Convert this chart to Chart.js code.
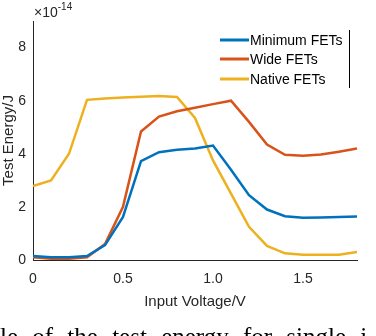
<!DOCTYPE html>
<html lang="en">
<head>
    <meta charset="UTF-8">
    <title>Test energy vs input voltage</title>
    <script src="https://cdn.jsdelivr.net/npm/chart.js"></script>
    <style>
        body {
            margin: 0;
            background: #fff;
        }
        #wrap {
            position: relative;
            width: 376px;
            height: 336px;
            overflow: hidden;
        }
        #caption {
            position: absolute;
            left: 0;
            top: 323px;
            white-space: nowrap;
            font-family: "Liberation Serif", "DejaVu Serif", serif;
            font-size: 25px;
            word-spacing: 8px;
            color: #000;
        }
    </style>
</head>
<body>
    <div id="wrap">
        <canvas id="energyChart" width="376" height="336"></canvas>
        <div id="caption">le of the test energy for single i</div>
    </div>

    <script>
        // input voltage (V)
        const voltages = [0, 0.1, 0.2, 0.3, 0.4, 0.5, 0.6, 0.7, 0.8, 0.9, 1.0, 1.1, 1.2, 1.3, 1.4, 1.5, 1.6, 1.7, 1.8];
        // test energy, units of 1e-14 J
        const minimumFets = [0.15, 0.1, 0.1, 0.15, 0.56, 1.62, 3.72, 4.06, 4.15, 4.2, 4.31, 3.4, 2.44, 1.9, 1.65, 1.59, 1.6, 1.62, 1.64];
        const wideFets = [0.1, 0.05, 0.05, 0.1, 0.6, 2.0, 4.84, 5.4, 5.6, 5.73, 5.87, 6.0, 5.2, 4.35, 3.96, 3.93, 3.97, 4.08, 4.2];
        const nativeFets = [2.78, 3.0, 4.0, 6.03, 6.08, 6.12, 6.15, 6.18, 6.14, 5.35, 3.75, 2.5, 1.25, 0.53, 0.25, 0.2, 0.2, 0.2, 0.3];
        const seriesNames = ['Minimum FETs', 'Wide FETs', 'Native FETs'];
        const seriesColors = ['#0072BD', '#D95319', '#EDB120'];

        const axisColor = '#262626';
        const fontFamily = '"Liberation Sans", Arial, sans-serif';

        const toPoints = (ys) => voltages.map((v, i) => ({x: v, y: ys[i]}));

        // legend box and the x10^-14 multiplier, drawn like the MATLAB figure
        const figureExtras = {
            id: 'figureExtras',
            afterDraw(chart) {
                const ctx = chart.ctx;
                const area = chart.chartArea;
                ctx.save();

                // exponent label
                ctx.fillStyle = axisColor;
                ctx.textBaseline = 'alphabetic';
                ctx.textAlign = 'left';
                ctx.font = '14px ' + fontFamily;
                ctx.fillText('\u00d710', area.left + 1, 17);
                const w = ctx.measureText('\u00d710').width;
                ctx.font = '10px ' + fontFamily;
                ctx.fillText('-14', area.left + 1 + w, 10);

                // legend
                const lx = 220, rows = [40, 59, 79];
                ctx.font = '14px ' + fontFamily;
                ctx.textBaseline = 'middle';
                chart.data.datasets.forEach((ds, i) => {
                    ctx.strokeStyle = ds.borderColor;
                    ctx.lineWidth = 3;
                    ctx.beginPath();
                    ctx.moveTo(lx, rows[i]);
                    ctx.lineTo(lx + 29, rows[i]);
                    ctx.stroke();
                    ctx.fillStyle = '#000';
                    ctx.fillText(ds.label, lx + 30, rows[i] + 1);
                });
                ctx.strokeStyle = '#000';
                ctx.lineWidth = 1;
                ctx.beginPath();
                ctx.moveTo(349.5, 30);
                ctx.lineTo(349.5, 88);
                ctx.stroke();

                ctx.restore();
            }
        };

        new Chart(document.getElementById('energyChart'), {
            type: 'line',
            data: {
                datasets: [minimumFets, wideFets, nativeFets].map((ys, i) => ({
                    label: seriesNames[i],
                    data: toPoints(ys),
                    borderColor: seriesColors[i],
                    backgroundColor: seriesColors[i],
                    borderWidth: 2.5,
                    pointRadius: 0,
                    tension: 0
                }))
            },
            options: {
                responsive: false,
                animation: false,
                layout: { padding: { top: 21, right: 19, left: 0, bottom: 0 } },
                plugins: {
                    legend: { display: false },
                    tooltip: { enabled: false }
                },
                scales: {
                    x: {
                        type: 'linear',
                        min: 0, max: 1.8,
                        grid: { display: false, drawTicks: false },
                        border: { display: true, color: axisColor, width: 1 },
                        ticks: {
                            stepSize: 0.5,
                            includeBounds: false,
                            padding: 11,
                            color: axisColor,
                            font: { family: fontFamily, size: 14 },
                            maxRotation: 0
                        },
                        title: {
                            display: true,
                            text: 'Input Voltage/V',
                            color: axisColor,
                            font: { family: fontFamily, size: 15 },
                            padding: { top: 4, bottom: 25 }
                        },
                        afterFit: (scale) => { scale.height = 76; }
                    },
                    y: {
                        min: 0, max: 9,
                        grid: { display: false, drawTicks: false },
                        border: { display: true, color: axisColor, width: 1 },
                        ticks: {
                            stepSize: 2,
                            includeBounds: false,
                            padding: 7,
                            color: axisColor,
                            font: { family: fontFamily, size: 14 }
                        },
                        title: {
                            display: true,
                            text: 'Test Energy/J',
                            color: axisColor,
                            font: { family: fontFamily, size: 15 },
                            padding: { top: 0, bottom: 0 }
                        },
                        afterFit: (scale) => { scale.width = 33; }
                    }
                }
            },
            plugins: [figureExtras]
        });
    </script>
</body>
</html>
